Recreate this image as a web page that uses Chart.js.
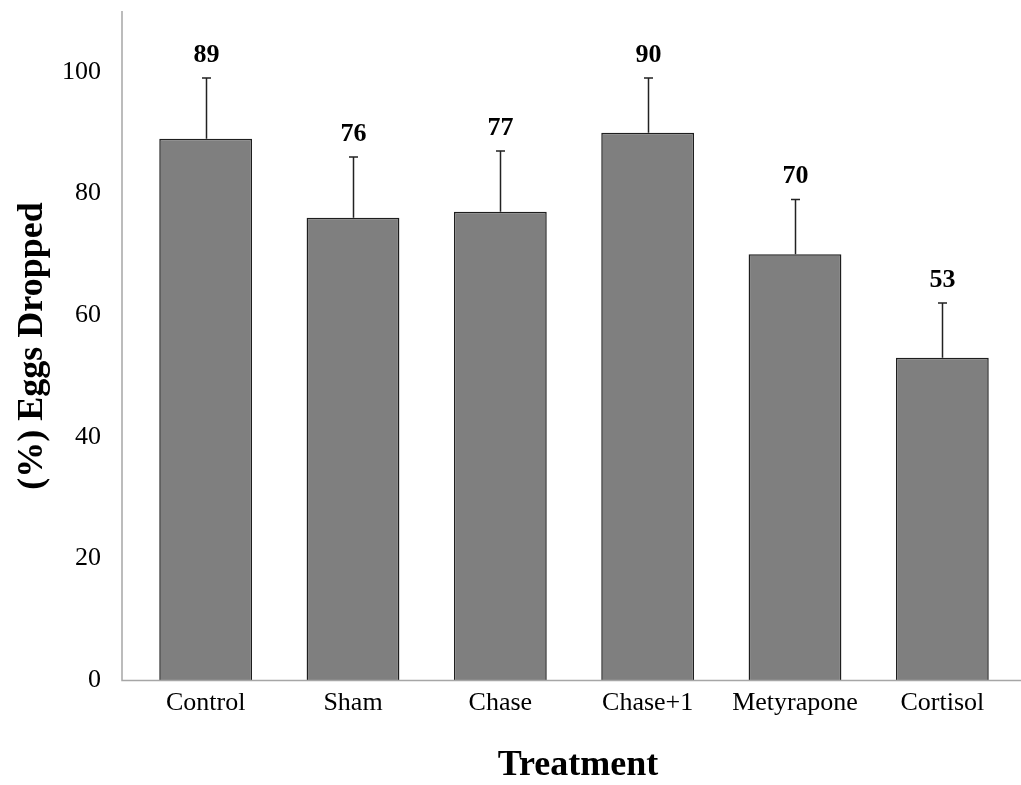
<!DOCTYPE html>
<html>
<head>
<meta charset="utf-8">
<script src="https://cdn.jsdelivr.net/npm/chart.js@4.4.0/dist/chart.umd.min.js"></script>
<style>
  html, body { margin: 0; padding: 0; background: #ffffff; }
  #wrap { width: 1021px; height: 785px; position: relative; }
</style>
</head>
<body>
<div id="wrap"><canvas id="chart" width="1021" height="785"></canvas></div>
<script>
// Treatment groups and mean percentage of eggs dropped
const treatments = ['Control', 'Sham', 'Chase', 'Chase+1', 'Metyrapone', 'Cortisol'];
const eggsDropped = [89, 76, 77, 90, 70, 53];
// Upper error (one-sided) for each group
const upperError = [10, 10, 10, 9, 9, 9];
const yTicks = [0, 20, 40, 60, 80, 100];

const FONT = '"Liberation Serif", "Times New Roman", serif';
const AXIS_X = 122;   // where the vertical axis line sits, left of the first category

// Error bars and value labels above each bar
const errorAndLabels = {
  id: 'errorAndLabels',
  afterDatasetsDraw(chart) {
    const ctx = chart.ctx;
    const meta = chart.getDatasetMeta(0);
    const y = chart.scales.y;
    ctx.save();
    meta.data.forEach((bar, i) => {
      const x = Math.round(bar.x) + 0.5;
      const yTop = y.getPixelForValue(eggsDropped[i] + upperError[i]);
      const yBar = y.getPixelForValue(eggsDropped[i]);
      ctx.strokeStyle = '#222222';
      ctx.lineWidth = 1.5;
      ctx.beginPath();
      ctx.moveTo(x, yBar);
      ctx.lineTo(x, yTop);
      ctx.moveTo(x - 4.5, yTop);
      ctx.lineTo(x + 4.5, yTop);
      ctx.stroke();
      ctx.fillStyle = '#000000';
      ctx.font = 'bold 26px ' + FONT;
      ctx.textAlign = 'center';
      ctx.textBaseline = 'middle';
      ctx.fillText(String(eggsDropped[i]), x, yTop - 23);
    });
    ctx.restore();
  }
};

// Axis lines and axis titles
const axisTitles = {
  id: 'axisTitles',
  afterDraw(chart) {
    const ctx = chart.ctx;
    const area = chart.chartArea;
    ctx.save();
    ctx.strokeStyle = '#a6a6a6';
    ctx.lineWidth = 1.5;
    ctx.beginPath();
    ctx.moveTo(AXIS_X, area.top);
    ctx.lineTo(AXIS_X, area.bottom + 0.5);
    ctx.lineTo(chart.width, area.bottom + 0.5);
    ctx.stroke();

    ctx.fillStyle = '#000000';
    ctx.textAlign = 'center';
    ctx.textBaseline = 'middle';
    ctx.font = 'bold 36px ' + FONT;
    ctx.fillText('Treatment', 578, 766);

    ctx.translate(33, 346);
    ctx.rotate(-Math.PI / 2);
    ctx.fillText('(%) Eggs Dropped', 0, 0);
    ctx.restore();
  }
};

new Chart(document.getElementById('chart'), {
  type: 'bar',
  data: {
    labels: treatments,
    datasets: [{
      data: eggsDropped,
      backgroundColor: '#7f7f7f',
      borderColor: '#1e1e1e',
      borderWidth: 1.5,
      barPercentage: 0.63,
      categoryPercentage: 1.0
    }]
  },
  options: {
    responsive: false,
    animation: false,
    devicePixelRatio: 1,
    layout: { padding: { top: 11, right: 5, left: 0, bottom: 0 } },
    plugins: {
      legend: { display: false },
      tooltip: { enabled: false },
      title: { display: false }
    },
    scales: {
      x: {
        grid: { display: false, drawTicks: false },
        border: { display: false },
        ticks: {
          color: '#000000',
          font: { family: FONT, size: 26 },
          padding: 8,
          maxRotation: 0,
          autoSkip: false
        },
        afterFit(scale) {
          scale.height = 105;
          scale.paddingLeft = 0;
          scale.paddingRight = 0;
        }
      },
      y: {
        min: 0,
        max: 110,
        grid: { display: false, drawTicks: false },
        border: { display: false },
        afterBuildTicks(scale) { scale.ticks = yTicks.map(v => ({ value: v })); },
        ticks: {
          color: '#000000',
          font: { family: FONT, size: 26 },
          padding: 31
        },
        afterFit(scale) {
          scale.width = 132;
          scale.paddingTop = 0;
          scale.paddingBottom = 0;
        }
      }
    }
  },
  plugins: [errorAndLabels, axisTitles]
});
</script>
</body>
</html>
